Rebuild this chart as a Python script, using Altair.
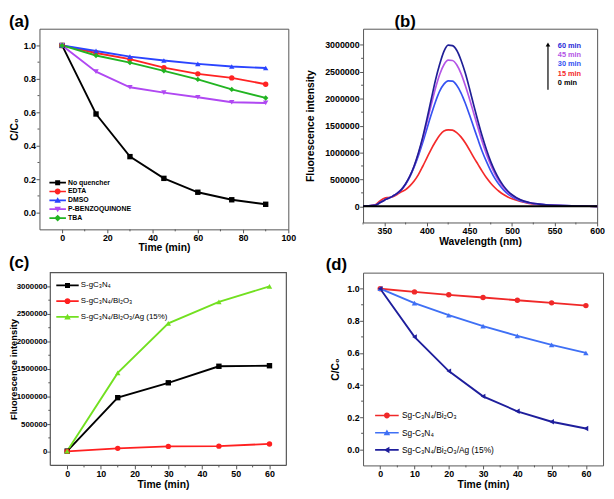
import altair as alt
import pandas as pd

FONT = "Liberation Sans"
FRAME = "#555555"

# ---------------- (a) quencher test ----------------
a_time = [0, 15, 30, 45, 60, 75, 90]
a_no_quencher = [1.0, 0.59, 0.335, 0.205, 0.122, 0.077, 0.05]
a_edta = [1.0, 0.955, 0.918, 0.867, 0.83, 0.806, 0.768]
a_dmso = [1.0, 0.967, 0.933, 0.91, 0.89, 0.874, 0.865]
a_pbq = [1.0, 0.843, 0.75, 0.718, 0.69, 0.66, 0.656]
a_tba = [1.0, 0.94, 0.897, 0.848, 0.797, 0.737, 0.686]
a_names = ["No quencher", "EDTA", "DMSO", "P-BENZOQUINONE", "TBA"]
a_colors = ["#000000", "#ff2323", "#2a44ff", "#b048f2", "#22b422"]
a_shapes = ["square", "circle", "triangle-up", "triangle-down", "diamond"]
a_xmajor = [0, 20, 40, 60, 80, 100]
a_xminor = [10, 30, 50, 70, 90]
a_ymajor = [0.0, 0.2, 0.4, 0.6, 0.8, 1.0]
a_yminor = [0.1, 0.3, 0.5, 0.7, 0.9]

# ---------------- (b) fluorescence spectra ----------------
b_wavelength = [325, 330, 335, 340, 345, 350, 355, 360, 365, 370, 375, 380, 385, 390,
                395, 400, 405, 410, 415, 420, 425, 430, 435, 440, 445, 450, 455, 460,
                465, 470, 475, 480, 485, 490, 495, 500, 510, 520, 530, 540, 550, 560,
                570, 580, 590, 600]
b_0min = [0, 0, 0, 0, 0, 0, 0, 0, 0, 0, 0, 0, 0, 0, 0, 0, 0, 0, 0, 0, 0, 0, 0,
          0, 0, 0, 0, 0, 0, 0, 0, 0, 0, 0, 0, 0, 0, 0, 0, 0, 0, 0, 0, 0, 0, 0]
b_15min = [5000, 8000, 15000, 35000, 100000, 150000, 165000, 180000, 220000, 270000,
           310000, 380000, 470000, 590000, 740000, 900000, 1060000, 1200000, 1320000,
           1400000, 1420000, 1415000, 1370000, 1290000, 1180000, 1050000, 910000,
           780000, 650000, 530000, 430000, 345000, 275000, 220000, 175000, 140000,
           90000, 55000, 35000, 22000, 15000, 10000, 6000, 3000, 1000, 0]
b_30min = [5000, 8000, 12000, 25000, 70000, 115000, 150000, 190000, 240000, 310000,
           410000, 550000, 730000, 940000, 1180000, 1440000, 1700000, 1940000, 2140000,
           2270000, 2330000, 2325000, 2250000, 2110000, 1920000, 1700000, 1470000,
           1240000, 1020000, 830000, 660000, 515000, 400000, 305000, 232000, 176000,
           102000, 62000, 40000, 27000, 18000, 12000, 8000, 5000, 2000, 0]
b_45min = [5000, 8000, 12000, 25000, 70000, 115000, 150000, 190000, 240000, 310000,
           410000, 560000, 745000, 975000, 1250000, 1560000, 1880000, 2190000, 2450000,
           2630000, 2715000, 2710000, 2630000, 2470000, 2250000, 2000000, 1730000,
           1460000, 1200000, 970000, 770000, 600000, 460000, 350000, 265000, 200000,
           115000, 70000, 45000, 30000, 20000, 13000, 8000, 5000, 2000, 0]
b_60min = [5000, 8000, 12000, 25000, 70000, 115000, 150000, 190000, 240000, 310000,
           420000, 560000, 750000, 990000, 1280000, 1620000, 1980000, 2340000, 2640000,
           2880000, 2995000, 2985000, 2900000, 2720000, 2480000, 2190000, 1880000,
           1580000, 1300000, 1050000, 830000, 650000, 500000, 380000, 285000, 215000,
           120000, 72000, 46000, 30000, 20000, 13000, 8000, 5000, 2000, 0]
b_names = ["15 min", "30 min", "45 min", "60 min", "0 min"]
b_colors = ["#f42a2a", "#3552f2", "#b455e6", "#1f1f96", "#000000"]
b_legend_order = ["60 min", "45 min", "30 min", "15 min", "0 min"]
b_legend_colors = ["#2b2bd8", "#b455e6", "#3552f2", "#f42a2a", "#000000"]
b_xmajor = [350, 400, 450, 500, 550, 600]
b_xminor = [325, 375, 425, 475, 525, 575]
b_ymajor = [0, 500000, 1000000, 1500000, 2000000, 2500000, 3000000]
b_yminor = [250000, 750000, 1250000, 1750000, 2250000, 2750000]

# ---------------- (c) fluorescence vs time ----------------
c_time = [0, 15, 30, 45, 60]
c_sg = [10000, 980000, 1250000, 1550000, 1560000]
c_bi = [5000, 60000, 95000, 100000, 140000]
c_ag = [10000, 1430000, 2330000, 2720000, 3000000]
c_names = ["S-gC₃N₄", "S-gC₃N₄/Bi₂O₃", "S-gC₃N₄/Bi₂O₃/Ag (15%)"]
c_colors = ["#000000", "#ff2020", "#72e020"]
c_shapes = ["square", "circle", "triangle-up"]
c_xmajor = [0, 10, 20, 30, 40, 50, 60]
c_xminor = [5, 15, 25, 35, 45, 55]
# plot box of panel (c), in axis units (three sides, then the bottom side)
c_box_x = [-5, -5, 65, 65]
c_box_y = [-250000, 3250000, 3250000, -250000]
c_base_x = [-5, 65]
c_base_y = [-250000, -250000]

# ---------------- (d) degradation ----------------
d_time = [0, 10, 20, 30, 40, 50, 60]
d_bi = [1.0, 0.98, 0.962, 0.945, 0.928, 0.912, 0.895]
d_sg = [1.0, 0.91, 0.835, 0.767, 0.706, 0.65, 0.6]
d_ag = [1.0, 0.70, 0.487, 0.33, 0.237, 0.172, 0.13]
d_names = ["Sg-C₃N₄/Bi₂O₃", "Sg-C₃N₄", "Sg-C₃N₄/Bi₂O₃/Ag (15%)"]
d_colors = ["#f02828", "#3f70f5", "#1e1e9c"]
d_shapes = ["circle", "triangle-up", "triangle-left"]


def long_df(xs, series, names):
    rows = []
    for name, vals in zip(names, series):
        for xv, yv in zip(xs, vals):
            rows.append({"x": xv, "y": yv, "series": name})
    return pd.DataFrame(rows)


MARKERS = {
    "square": "M-0.85,-0.85H0.85V0.85H-0.85Z",
    "circle": "M-1,0A1,1 0 1,1 1,0A1,1 0 1,1 -1,0Z",
    "triangle-up": "M0,-1.05L1.1,0.85L-1.1,0.85Z",
    "triangle-down": "M-1.1,-0.85L1.1,-0.85L0,1.05Z",
    "diamond": "M0,-1.15L1.15,0L0,1.15L-1.15,0Z",
    "triangle-left": "M-1.05,0L0.85,-1.1L0.85,1.1Z",
}


def legend_path(shape, half_len, thick=0.28):
    line = f"M{-half_len},{-thick}H{half_len}V{thick}H{-half_len}Z"
    return line + MARKERS[shape]


def make_axis(values, title, fmt, **kw):
    return alt.Axis(values=values, title=title, format=fmt, labelOverlap=False,
                    labelFlush=False, **kw)


def panel_label(txt, x, y):
    return alt.Chart(pd.DataFrame({"t": [txt]})).mark_text(
        align="left", baseline="top", fontSize=17, fontWeight="bold", font=FONT,
        color="black"
    ).encode(text="t:N", x=alt.value(x), y=alt.value(y))


class Panel:
    def __init__(self, xdomain, xaxis, ydomain, yaxis):
        self.xs = alt.Scale(domain=xdomain, nice=False, zero=False)
        self.ys = alt.Scale(domain=ydomain, nice=False, zero=False)
        self.xa = xaxis
        self.ya = yaxis

    def X(self, field):
        return alt.X(field, scale=self.xs, axis=self.xa)

    def Y(self, field):
        return alt.Y(field, scale=self.ys, axis=self.ya)

    def minor_ticks(self, xminor, yminor, height, yaxis_x=0):
        tx = alt.Chart(pd.DataFrame({"v": xminor})).mark_rule(color=FRAME, strokeWidth=1).encode(
            x=self.X("v:Q"), y=alt.value(height), y2=alt.value(height + 2))
        ty = alt.Chart(pd.DataFrame({"v": yminor})).mark_rule(color=FRAME, strokeWidth=1).encode(
            y=self.Y("v:Q"), x=alt.value(yaxis_x - 2), x2=alt.value(yaxis_x))
        return [tx, ty]

    def series_layers(self, df, names, colors, shapes, legend, paths, size, lw,
                      extra_lines=()):
        base = alt.Chart(df)
        X, Y = self.X("x:Q"), self.Y("y:Q")
        layers = []
        for n, c, w in extra_lines:
            layers.append(
                base.transform_filter(alt.datum.series == n).mark_line(
                    strokeWidth=w, color=c).encode(x=X, y=Y)
            )
        for n, c in zip(names, colors):
            layers.append(
                base.transform_filter(alt.datum.series == n).mark_line(
                    strokeWidth=lw, color=c).encode(x=X, y=Y)
            )
        for n, c, s in zip(names, colors, shapes):
            layers.append(
                base.transform_filter(alt.datum.series == n).mark_point(
                    filled=True, shape=s, color=c, size=size, opacity=1, strokeWidth=0
                ).encode(x=X, y=Y)
            )
        layers.append(
            base.transform_filter("false").mark_point(filled=True, size=36, opacity=1).encode(
                x=X, y=Y,
                color=alt.Color("series:N", scale=alt.Scale(domain=names, range=colors),
                                legend=legend),
                shape=alt.Shape("series:N", scale=alt.Scale(domain=names, range=paths),
                                legend=legend),
            )
        )
        return layers


# ---------- panel (a) ----------
a_df = long_df(a_time, [a_no_quencher, a_edta, a_dmso, a_pbq, a_tba], a_names)
pa = Panel([-10, 100], make_axis(a_xmajor, "Time (min)", "d"),
           [-0.1, 1.1], make_axis(a_ymajor, "C/C₀", ".1f", titleX=-20))
a_legend = alt.Legend(title=None, orient="none", legendX=15, legendY=153, padding=0,
                      labelFont=FONT, labelFontSize=7, labelFontWeight="bold", labelColor="black",
                      symbolSize=36, symbolStrokeWidth=0, rowPadding=1, labelOffset=7, labelLimit=300)
a_paths = [legend_path(s, 2.8) for s in a_shapes]
A = alt.layer(
    *pa.minor_ticks(a_xminor, a_yminor, 204),
    *pa.series_layers(a_df, a_names, a_colors, a_shapes, a_legend, a_paths, 30, 1.9),
    panel_label("(a)", -31, -15),
).properties(width=253, height=204)

# ---------- panel (b) ----------
b_df = long_df(b_wavelength, [b_15min, b_30min, b_45min, b_60min, b_0min], b_names)
pb = Panel([325, 600], make_axis(b_xmajor, "Wavelength (nm)", "d"),
           [-300000, 3300000], make_axis(b_ymajor, "Fluorescence intensity", "d", titleX=-48))
b_layers = pb.minor_ticks(b_xminor, b_yminor, 197)
for n, c in zip(b_names, b_colors):
    b_layers.append(
        alt.Chart(b_df).transform_filter(alt.datum.series == n).mark_line(
            strokeWidth=1.7 if n != "0 min" else 2.0, color=c, interpolate="monotone"
        ).encode(x=pb.X("x:Q"), y=pb.Y("y:Q"))
    )
b_layers += [
    alt.Chart(pd.DataFrame({"a": [0]})).mark_rule(color="black", strokeWidth=1.2).encode(
        x=alt.value(188), y=alt.value(17), y2=alt.value(62)),
    alt.Chart(pd.DataFrame({"a": [0]})).mark_point(shape="triangle-up", filled=True, size=22,
                                                  color="black", opacity=1).encode(
        x=alt.value(188), y=alt.value(16)),
]
for i, (lab, col) in enumerate(zip(b_legend_order, b_legend_colors)):
    b_layers.append(
        alt.Chart(pd.DataFrame({"t": [lab]})).mark_text(
            align="left", baseline="middle", fontSize=7.5, fontWeight="bold", font=FONT, color=col
        ).encode(text="t:N", x=alt.value(198), y=alt.value(18 + i * 9.2))
    )
b_layers.append(panel_label("(b)", 32, -15))
B = alt.layer(*b_layers).properties(width=238, height=197)

# ---------- panel (c) ----------
C_W, C_H, C_IN = 251, 196, 11
c_df = pd.concat([
    long_df(c_time, [c_sg, c_bi, c_ag], c_names),
    long_df(c_box_x, [c_box_y], ["box"]),
    long_df(c_base_x, [c_base_y], ["box-base"]),
], ignore_index=True)
pc = Panel([-8.21, 65], make_axis(c_xmajor, "Time (min)", "d"),
           [-250000, 3250000],
           make_axis(b_ymajor, "Fluorescence intensity", "d", offset=-C_IN, labelFontSize=8,
                     labelPadding=0, titleX=-32, titleFontSize=9.5))
c_legend = alt.Legend(title=None, orient="none", legendX=24.5, legendY=9, padding=0,
                      labelFont=FONT, labelFontSize=8, labelFontWeight="normal", labelColor="black",
                      symbolSize=36, symbolStrokeWidth=0, rowPadding=8, labelOffset=9.5, labelLimit=300)
c_paths = [legend_path(s, 3.8) for s in c_shapes]
C = alt.layer(
    *pc.minor_ticks(c_xminor, b_yminor, C_H, yaxis_x=C_IN),
    *pc.series_layers(c_df, c_names, c_colors, c_shapes, c_legend, c_paths, 30, 1.9,
                      extra_lines=[("box", FRAME, 1.2), ("box-base", FRAME, 1.2)]),
    panel_label("(c)", -31, -18),
).properties(width=C_W, height=C_H, view=alt.ViewBackground(stroke="transparent"))

# ---------- panel (d) ----------
d_df = long_df(d_time, [d_bi, d_sg, d_ag], d_names)
pd_ = Panel([-5, 65], make_axis(c_xmajor, "Time (min)", "d"),
            [-0.1, 1.1], make_axis(a_ymajor, "C/C₀", ".1f", titleX=-23))
d_legend = alt.Legend(title=None, orient="none", legendX=20, legendY=141, padding=0,
                      labelFont=FONT, labelFontSize=8.5, labelFontWeight="normal", labelColor="black",
                      symbolSize=36, symbolStrokeWidth=0, rowPadding=8.5, labelOffset=11, labelLimit=300)
d_paths = [legend_path(s, 4.0) for s in d_shapes]
D = alt.layer(
    *pd_.minor_ticks(c_xminor, a_yminor, 196),
    *pd_.series_layers(d_df, d_names, d_colors, d_shapes, d_legend, d_paths, 30, 1.9),
    panel_label("(d)", -38, -16),
).properties(width=244, height=196)

chart = alt.concat(
    A, B, C, D, columns=2, spacing={"row": 44, "column": 76}, bounds="flush", align="all"
).resolve_scale(
    color="independent", shape="independent"
).resolve_legend(
    color="independent", shape="independent"
).properties(
    padding={"left": 0, "top": 0, "right": 0, "bottom": 0}
).configure(font=FONT).configure_view(stroke=FRAME, strokeWidth=1).configure_axis(
    labelFont=FONT, labelFontSize=9, labelFontWeight="bold", labelColor="black",
    titleFont=FONT, titleFontSize=10.5, titleFontWeight="bold", titleColor="black",
    tickColor=FRAME, tickWidth=1, tickSize=3.5, domain=False, grid=False, labelPadding=0.5,
    titlePadding=1,
)

chart.save("out.html", embed_options={"renderer": "svg", "actions": False})
